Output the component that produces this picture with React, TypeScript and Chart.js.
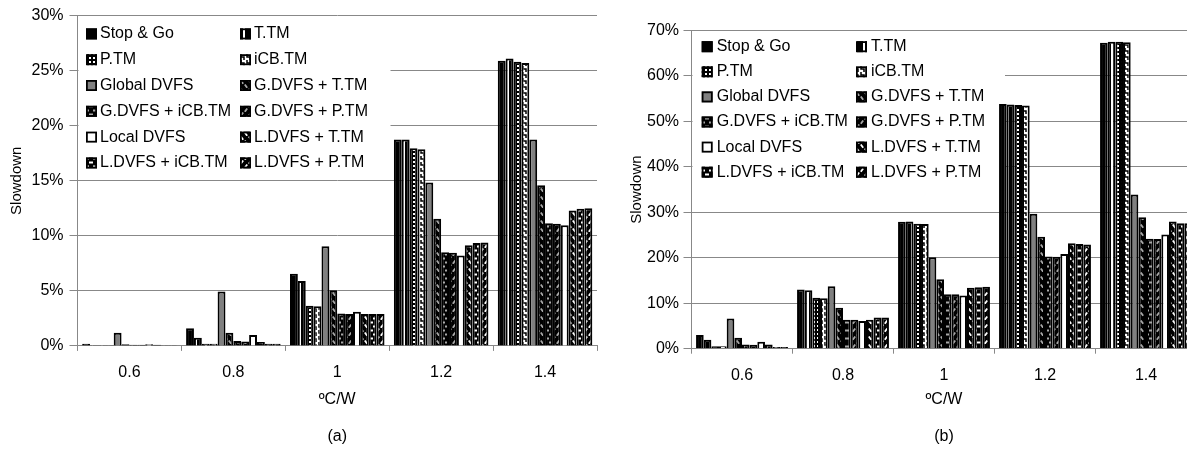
import React, { useEffect, useRef } from 'react';
import { Chart, registerables } from 'chart.js';

Chart.register(...registerables);

// ---------- data ----------
const categories = ['0.6', '0.8', '1', '1.2', '1.4'];
const seriesNames = [
  'Stop & Go', 'T.TM', 'P.TM', 'iCB.TM', 'Global DVFS', 'G.DVFS + T.TM',
  'G.DVFS + iCB.TM', 'G.DVFS + P.TM', 'Local DVFS', 'L.DVFS + T.TM',
  'L.DVFS + iCB.TM', 'L.DVFS + P.TM',
];

// panel (a) values, % slowdown
const aStopGo = [0.2, 1.6, 6.55, 18.75, 25.9];
const aTTM = [0.05, 0.75, 5.9, 18.75, 26.1];
const aPTM = [0.05, 0.2, 3.65, 17.95, 25.8];
const aICB = [0.05, 0.2, 3.6, 17.85, 25.7];
const aGlobal = [1.2, 4.95, 9.05, 14.85, 18.75];
const aGT = [0.15, 1.2, 5.05, 11.55, 14.6];
const aGICB = [0.1, 0.45, 2.95, 8.5, 11.15];
const aGP = [0.1, 0.4, 2.9, 8.45, 11.1];
const aLocal = [0.15, 1.0, 3.1, 8.2, 10.95];
const aLT = [0.1, 0.35, 2.9, 9.15, 12.3];
const aLICB = [0.05, 0.2, 2.9, 9.35, 12.45];
const aLP = [0.05, 0.2, 2.9, 9.4, 12.5];

// panel (b) values, % slowdown
const bStopGo = [3.0, 13.0, 27.9, 53.8, 67.3];
const bTTM = [1.95, 12.85, 28.0, 53.7, 67.5];
const bPTM = [0.55, 11.2, 27.5, 53.6, 67.5];
const bICB = [0.55, 11.1, 27.4, 53.5, 67.4];
const bGlobal = [6.65, 13.75, 20.1, 29.7, 33.9];
const bGT = [2.4, 9.0, 15.3, 24.6, 28.9];
const bGICB = [0.9, 6.35, 12.0, 20.3, 24.2];
const bGP = [0.85, 6.35, 12.0, 20.2, 24.1];
const bLocal = [1.55, 6.1, 11.7, 20.8, 25.1];
const bLT = [0.9, 6.35, 13.4, 23.2, 28.0];
const bLICB = [0.4, 6.85, 13.5, 23.0, 27.6];
const bLP = [0.4, 6.85, 13.6, 22.9, 27.6];

const aSeries = [aStopGo, aTTM, aPTM, aICB, aGlobal, aGT, aGICB, aGP, aLocal, aLT, aLICB, aLP];
const bSeries = [bStopGo, bTTM, bPTM, bICB, bGlobal, bGT, bGICB, bGP, bLocal, bLT, bLICB, bLP];

const aYMax = 30;
const aYStep = 5;
const bYMax = 70;
const bYStep = 10;
const xTitleA = ['ºC/W', '', '(a)'];
const xTitleB = ['ºC/W', '', '(b)'];
const yTitle = 'Slowdown';

// ---------- styles ----------
const FONT = '"Liberation Sans", Arial, Helvetica, sans-serif';

function tile(w: number, h: number, bg: string, draw: (g: CanvasRenderingContext2D) => void) {
  const c = document.createElement('canvas');
  c.width = w;
  c.height = h;
  const g = c.getContext('2d')!;
  g.fillStyle = bg;
  g.fillRect(0, 0, w, h);
  draw(g);
  return g.createPattern(c, 'repeat')!;
}

function weave(color: string, kind: 'T' | 'I' | 'P') {
  return tile(8, 8, '#000', (g) => {
    g.strokeStyle = color;
    g.fillStyle = color;
    g.lineWidth = 1.8;
    if (kind === 'T') {
      g.beginPath();
      g.moveTo(0.8, 0.5); g.lineTo(3.2, 3.8);
      g.moveTo(4.8, 4.5); g.lineTo(7.2, 7.8);
      g.stroke();
    } else if (kind === 'P') {
      g.beginPath();
      g.moveTo(3.2, 0.5); g.lineTo(0.8, 3.8);
      g.moveTo(7.2, 4.5); g.lineTo(4.8, 7.8);
      g.stroke();
    } else {
      g.fillRect(1, 1.5, 4, 2);
      g.fillRect(5, 5.5, 3, 2);
      g.fillRect(0, 5.5, 1, 2);
    }
  });
}

function makeFills(): (string | CanvasPattern)[] {
  const grey = '#a8a8a8';
  return [
    '#000000',
    tile(8, 4, '#000', (g) => { g.fillStyle = '#fff'; g.fillRect(3, 0, 2, 4); }),
    tile(4, 4, '#000', (g) => { g.fillStyle = '#fff'; g.fillRect(1, 1, 2, 2); }),
    tile(6, 6, '#fff', (g) => {
      g.strokeStyle = '#000'; g.lineWidth = 1.5;
      g.beginPath(); g.moveTo(1, 0); g.lineTo(1, 3); g.lineTo(4, 3); g.lineTo(4, 6); g.stroke();
    }),
    '#808080',
    weave(grey, 'T'),
    weave(grey, 'I'),
    weave(grey, 'P'),
    '#ffffff',
    weave('#fff', 'T'),
    weave('#fff', 'I'),
    weave('#fff', 'P'),
  ];
}

type LegendCfg = { colX: number[]; textDx: number; rowY0: number; rowDy: number; sw: number; boxW: number; boxH: number };

function makeLegend(cfg: LegendCfg) {
  return {
    id: 'boxLegend',
    beforeDatasetsDraw(chart: any) {
      const { ctx, chartArea } = chart;
      ctx.save();
      ctx.fillStyle = '#fff';
      ctx.fillRect(chartArea.left + 1, chartArea.top + 1, cfg.boxW, cfg.boxH);
      ctx.font = `16px ${FONT}`;
      ctx.textBaseline = 'middle';
      ctx.textAlign = 'left';
      chart.data.datasets.forEach((ds: any, i: number) => {
        const col = i % 2;
        const row = Math.floor(i / 2);
        const x = chartArea.left + cfg.colX[col];
        const y = chartArea.top + cfg.rowY0 + row * cfg.rowDy;
        const s = cfg.sw;
        ctx.fillStyle = ds.backgroundColor;
        ctx.fillRect(x, y - s / 2, s, s);
        ctx.strokeStyle = '#000';
        ctx.lineWidth = 1.8;
        ctx.strokeRect(x + 0.9, y - s / 2 + 0.9, s - 1.8, s - 1.8);
        ctx.fillStyle = '#000';
        ctx.fillText(ds.label, x + cfg.textDx, y);
      });
      ctx.restore();
    },
  };
}

type PanelCfg = {
  series: number[][];
  yMax: number;
  yStep: number;
  xTitle: string[];
  canvasW: number;
  left: number;
  yWidth: number;
  yLabelPad: number;
  padTop: number;
  padRight: number;
  plotBottom: number;
  legend: LegendCfg;
};

const H = 450;

function Panel({ cfg }: { cfg: PanelCfg }) {
  const ref = useRef<HTMLCanvasElement>(null);
  useEffect(() => {
    const fills = makeFills();
    const chart = new Chart(ref.current!, {
      type: 'bar',
      data: {
        labels: categories,
        datasets: cfg.series.map((d, i) => ({
          label: seriesNames[i],
          data: d,
          backgroundColor: fills[i] as any,
          borderColor: '#000',
          borderWidth: 2,
          categoryPercentage: 0.91,
          barPercentage: 1.0,
        })),
      },
      options: {
        responsive: false,
        animation: false,
        devicePixelRatio: 1,
        layout: { padding: { top: cfg.padTop, right: cfg.padRight, left: 0, bottom: 0 } },
        plugins: { legend: { display: false }, tooltip: { enabled: false } },
        scales: {
          x: {
            grid: { drawOnChartArea: false, color: '#888', tickLength: 5, offset: true },
            border: { color: '#888' },
            ticks: { padding: 12.4, color: '#000', font: { family: FONT, size: 16 } },
            title: {
              display: true,
              text: cfg.xTitle,
              color: '#000',
              font: { family: FONT, size: 16, lineHeight: 1.156 },
              padding: { top: 0, bottom: 3.8 },
            },
            afterFit: (s: any) => { s.height = H - cfg.plotBottom; },
          },
          y: {
            min: 0,
            max: cfg.yMax,
            grid: { color: '#888', tickLength: 8 },
            border: { color: '#888' },
            ticks: {
              stepSize: cfg.yStep,
              padding: cfg.yLabelPad,
              color: '#000',
              font: { family: FONT, size: 16 },
              callback: (v: any) => `${v}%`,
            },
            title: {
              display: true,
              text: yTitle,
              color: '#000',
              font: { family: FONT, size: 15 },
              padding: { top: 8, bottom: 0 },
            },
            afterFit: (s: any) => { s.width = cfg.yWidth; },
          },
        },
      },
      plugins: [makeLegend(cfg.legend)],
    });
    return () => chart.destroy();
  }, []);
  return (
    <canvas
      ref={ref}
      width={cfg.canvasW}
      height={H}
      style={{ position: 'absolute', left: cfg.left, top: 0, width: cfg.canvasW, height: H }}
    />
  );
}

const panelA: PanelCfg = {
  series: aSeries,
  yMax: aYMax,
  yStep: aYStep,
  xTitle: xTitleA,
  canvasW: 610,
  left: 0,
  yWidth: 77.5,
  yLabelPad: 6,
  padTop: 14.7,
  padRight: 13,
  plotBottom: 345.9,
  legend: { colX: [8.5, 162.5], textDx: 14, rowY0: 18.3, rowDy: 25.8, sw: 11, boxW: 312, boxH: 160 },
};

const panelB: PanelCfg = {
  series: bSeries,
  yMax: bYMax,
  yStep: bYStep,
  xTitle: xTitleB,
  canvasW: 590,
  left: 620,
  yWidth: 71.5,
  yLabelPad: 4.5,
  padTop: 30.4,
  padRight: 13.5,
  plotBottom: 348.7,
  legend: { colX: [10.2, 164.5], textDx: 15, rowY0: 16.3, rowDy: 25.1, sw: 11, boxW: 312.5, boxH: 159 },
};

export default function App() {
  return (
    <div
      style={{
        position: 'fixed',
        left: 0,
        top: 0,
        width: 1187,
        height: H,
        overflow: 'hidden',
        background: '#fff',
      }}
    >
      <Panel cfg={panelA} />
      <Panel cfg={panelB} />
    </div>
  );
}
